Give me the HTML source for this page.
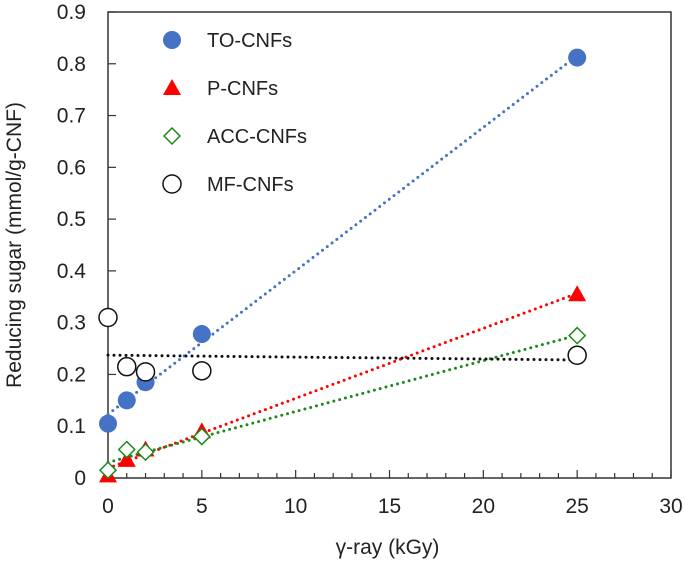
<!DOCTYPE html>
<html><head><meta charset="utf-8"><style>
body{margin:0;background:#fff}
svg{display:block;font-family:"Liberation Sans",Arial,sans-serif}
</style></head><body>
<svg id="chart" width="685" height="562"></svg>
<script>
const xVals=[0,1,2,5,25];
const toVals=[0.105,0.15,0.185,0.278,0.812];
const pVals=[0.005,0.035,0.055,0.09,0.355];
const accVals=[0.015,0.055,0.05,0.08,0.275];
const mfVals=[0.31,0.215,0.205,0.207,0.237];
const xTicks=[0,5,10,15,20,25,30];
const yTicks=[0,0.1,0.2,0.3,0.4,0.5,0.6,0.7,0.8,0.9];
const seriesNames=["TO-CNFs","P-CNFs","ACC-CNFs","MF-CNFs"];

const L=108,R=671,T=12,B=478;
const sx=v=>L+(v/30)*(R-L);
const sy=v=>B-(v/0.9)*(B-T);
const NS="http://www.w3.org/2000/svg";
const svg=document.getElementById('chart');
function mk(tag,attrs,parent){const e=document.createElementNS(NS,tag);for(const k in attrs)e.setAttribute(k,attrs[k]);(parent||svg).appendChild(e);return e;}

const frame=mk('rect',{x:L,y:T,width:R-L,height:B-T,fill:'none',stroke:'#333','stroke-width':1.5});



for(let i=0;i<=30;i++){
  const len=(i%5===0)?8:5;
  const t=mk('line',{x1:sx(i),x2:sx(i),y1:B,y2:B-len,stroke:'#333','stroke-width':1.2});
  
  
}
xTicks.forEach(v=>{
  const t=mk('text',{x:sx(v),y:B+35,'text-anchor':'middle','font-size':21,fill:'#222'});
  t.textContent=v;
  
  
});
yTicks.forEach(v=>{
  const l=mk('line',{x1:L,x2:L+8,y1:sy(v),y2:sy(v),stroke:'#333','stroke-width':1.2});
  
  
  const t=mk('text',{x:L-22,y:sy(v)+7,'text-anchor':'end','font-size':21,fill:'#222'});
  t.textContent=v===0?'0':v.toFixed(1);
  
  
});
const xt=mk('text',{x:(L+R)/2-2,y:554,'text-anchor':'middle','font-size':21,fill:'#222'});
xt.textContent='γ-ray (kGy)';


const yt=mk('text',{x:0,y:0,'text-anchor':'middle','font-size':21,fill:'#222',transform:'translate(21,245) rotate(-90)'});
yt.textContent='Reducing sugar (mmol/g-CNF)';



function fit(ys){const n=xVals.length;let mx=0,my=0;for(let i=0;i<n;i++){mx+=xVals[i];my+=ys[i];}mx/=n;my/=n;let a=0,b=0;for(let i=0;i<n;i++){a+=(xVals[i]-mx)*(ys[i]-my);b+=(xVals[i]-mx)**2;}const s=a/b;return [my-s*mx,s];}
const series=[
 {vals:toVals,color:'#4472c4',lc:'#4472c4',type:'circle'},
 {vals:pVals,color:'#ff0000',lc:'#ff0000',type:'tri'},
 {vals:accVals,color:'#1a8a1a',lc:'#1a8a1a',type:'diamond'},
 {vals:mfVals,color:'#111',lc:'#111',type:'ocircle'}
];
function marker(type,x,y,color,g){
  if(type==='circle')return mk('circle',{cx:x,cy:y,r:9,fill:color},g);
  if(type==='ocircle')return mk('circle',{cx:x,cy:y,r:9,fill:'#fff',stroke:color,'stroke-width':1.5},g);
  if(type==='tri')return mk('polygon',{points:`${x},${y-9} ${x+9},${y+7} ${x-9},${y+7}`,fill:color},g);
  return mk('polygon',{points:`${x},${y-8} ${x+8},${y} ${x},${y+8} ${x-8},${y}`,fill:'#fff',stroke:color,'stroke-width':1.5},g);
}
series.forEach((s,si)=>{
  const [b0,b1]=fit(s.vals);
  const tl=mk('line',{x1:sx(0),y1:sy(b0),x2:sx(25),y2:sy(b0+25*b1),stroke:s.lc,'stroke-width':3,'stroke-dasharray':'0 6','stroke-linecap':'round'});
  
  
});
series.forEach((s,si)=>{
  s.vals.forEach((v,i)=>{
    const m=marker(s.type,sx(xVals[i]),sy(v),s.color);
    
    
  });
  const ly=40+si*48;
  const lm=marker(s.type,172,ly,s.color);
  
  
  const lt=mk('text',{x:207,y:ly+7,'font-size':20,fill:'#222'});
  lt.textContent=seriesNames[si];
  
  
});
</script>
</body></html>
